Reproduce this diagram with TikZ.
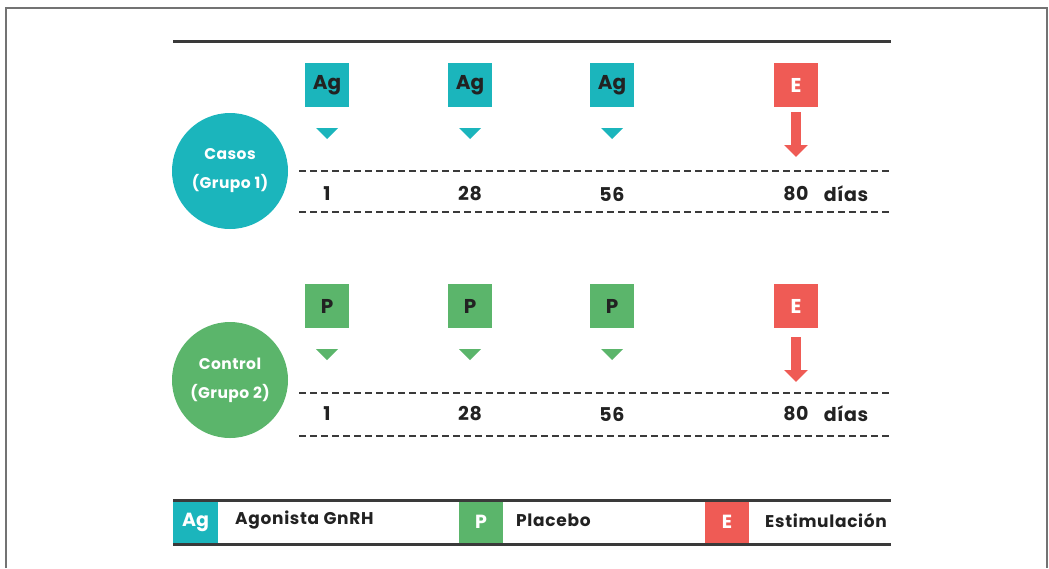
\documentclass[tikz,border=0pt]{standalone}
\usepackage{fontspec}
\setmainfont{Poppins}
\usepackage{xcolor}
\usepackage{tikz}
\usetikzlibrary{arrows.meta}

\definecolor{agteal}{HTML}{1BB5BC}
\definecolor{plgreen}{HTML}{5BB56B}
\definecolor{esred}{HTML}{EF5B55}
\definecolor{rulegray}{HTML}{3A3A3A}
\definecolor{inkdark}{HTML}{222222}

\begin{document}
\begin{tikzpicture}[x=1pt,y=-1pt,
    box/.style={minimum size=44pt,inner sep=0pt,font=\fontsize{20}{20}\selectfont\bfseries},
    group/.style={circle,minimum size=116pt,inner sep=0pt,text=white,align=center,font=\fontsize{15.5}{29}\selectfont\bfseries\addfontfeature{LetterSpace=3}},
    day/.style={text=inkdark,font=\fontsize{19}{19}\selectfont\bfseries\addfontfeature{LetterSpace=3}},
    dots/.style={draw=rulegray,line width=2.5pt,dash pattern=on 7pt off 4pt},
    rule/.style={draw=rulegray,line width=3pt},
    drop/.style={draw=esred,line width=10pt,-{Triangle[width=23pt,length=12pt]}},
    key/.style={anchor=west,inner sep=0pt,text=inkdark,font=\fontsize{17}{17}\selectfont\bfseries\addfontfeature{LetterSpace=4}}]
    \useasboundingbox (0,0) rectangle (1049,568);
    \draw[gray!90!black,line width=1.5pt] (6,568) -- (6,8) -- (1047,8) -- (1047,568);
    \draw[rule] (173,41) -- (891,41);

    % Grupo 1
    \draw (230,171) node (grp1) [group,fill=agteal] {Casos\\(Grupo 1)};
    \draw (327,85) node (ag1) [box,fill=agteal,text=inkdark] {Ag};
    \draw (470,85) node (ag2) [box,fill=agteal,text=inkdark] {Ag};
    \draw (612,85) node (ag3) [box,fill=agteal,text=inkdark] {Ag};
    \draw (796,85) node (e1) [box,fill=esred,text=white] {E};
    \fill[agteal] (316,128) -- (338,128) -- (327,139) -- cycle;
    \fill[agteal] (459,128) -- (481,128) -- (470,139) -- cycle;
    \fill[agteal] (601,128) -- (623,128) -- (612,139) -- cycle;
    \coordinate (e1top) at (796,112);
    \coordinate (e1tip) at (796,157);
    \draw[drop] (e1top) -- (e1tip);
    \draw[dots] (299,171) -- (891,171);
    \draw[dots] (299,212) -- (891,212);
    \draw (327,194) node (d1a) [day] {1};
    \draw (470,194) node (d1b) [day] {28};
    \draw (612,194) node (d1c) [day] {56};
    \draw (796,194) node (d1d) [day] {80};
    \draw (846,194) node (d1u) [day] {días};

    % Grupo 2
    \draw (230,380) node (grp2) [group,fill=plgreen] {Control\\(Grupo 2)};
    \draw (327,306) node (p1) [box,fill=plgreen,text=inkdark] {P};
    \draw (470,306) node (p2) [box,fill=plgreen,text=inkdark] {P};
    \draw (612,306) node (p3) [box,fill=plgreen,text=inkdark] {P};
    \draw (796,306) node (e2) [box,fill=esred,text=white] {E};
    \fill[plgreen] (316,349) -- (338,349) -- (327,360) -- cycle;
    \fill[plgreen] (459,349) -- (481,349) -- (470,360) -- cycle;
    \fill[plgreen] (601,349) -- (623,349) -- (612,360) -- cycle;
    \coordinate (e2top) at (796,337);
    \coordinate (e2tip) at (796,382);
    \draw[drop] (e2top) -- (e2tip);
    \draw[dots] (299,393) -- (891,393);
    \draw[dots] (299,436) -- (891,436);
    \draw (327,414) node (d2a) [day] {1};
    \draw (470,414) node (d2b) [day] {28};
    \draw (612,414) node (d2c) [day] {56};
    \draw (796,414) node (d2d) [day] {80};
    \draw (846,414) node (d2u) [day] {días};

    % leyenda
    \fill[agteal] (173,500) rectangle (218,544);
    \fill[plgreen] (459,500) rectangle (503,544);
    \fill[esred] (705,500) rectangle (749,544);
    \draw (195.5,522) node (kag) [text=white,font=\fontsize{19}{19}\selectfont\bfseries] {Ag};
    \draw (481,522) node (kp) [text=white,font=\fontsize{19}{19}\selectfont\bfseries] {P};
    \draw (727,522) node (ke) [text=white,font=\fontsize{19}{19}\selectfont\bfseries] {E};
    \draw (235,520) node (tag) [key] {Agonista GnRH};
    \draw (516,520) node (tp) [key] {Placebo};
    \draw (765,520) node (te) [key] {Estimulación};
    \draw[rule] (173,500) -- (891,500);
    \draw[rule] (173,544) -- (891,544);
\end{tikzpicture}
\end{document}
